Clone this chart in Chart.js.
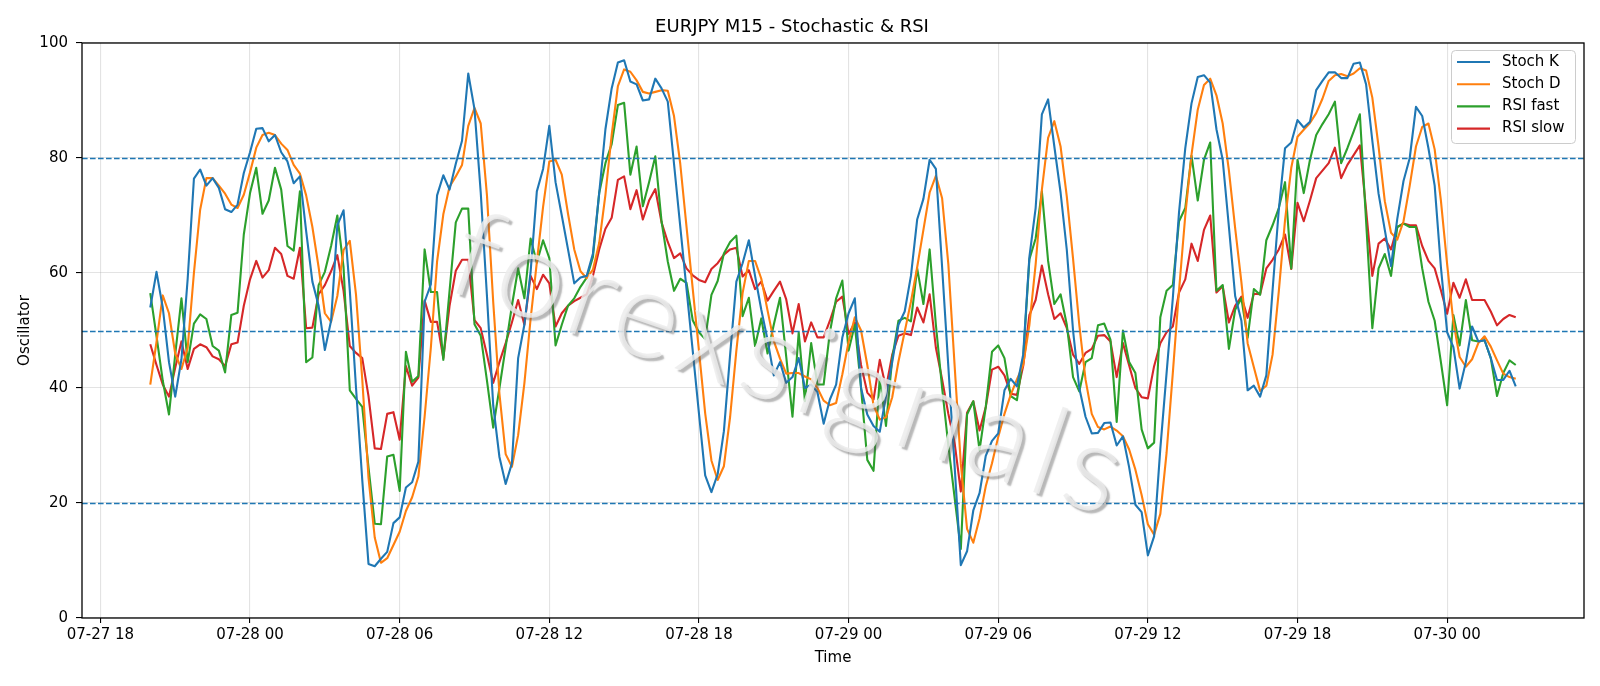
<!DOCTYPE html>
<html>
<head>
<meta charset="utf-8">
<script src="https://cdn.jsdelivr.net/npm/chart.js@4.4.1/dist/chart.umd.min.js"></script>
<style>
  html, body { margin: 0; padding: 0; background: #fff; }
</style>
</head>
<body>
<canvas id="myChart" width="1600" height="686"></canvas>
<script>
// M15 bars, first one at 07-27 20:00 (hours counted from 07-27 18:00)
var startHour = 2;
var stepHours = 0.25;

var stochK = [
  54, 60.2, 54, 44.5, 38.5, 45, 59, 76.4, 78, 75.2,
  76.5, 74.8, 71.1, 70.6, 71.9, 77.4, 81, 85.1, 85.2, 82.9,
  84, 81, 79.4, 75.6, 76.8, 67.3, 58.5, 54.3, 46.6, 51.7,
  68.3, 70.9, 57, 40, 24, 9.4, 9, 10.3, 11.5, 16.5,
  17.5, 22.7, 23.6, 27.2, 55, 58, 73.5, 77, 74.5, 79,
  83, 94.7, 88.5, 74, 56, 37, 28, 23.3, 26.9, 45.2,
  51, 60.2, 74.2, 78.1, 85.6, 75.8, 70, 64.1, 58.2, 59.2,
  59.5, 63.4, 73.9, 85, 92.1, 96.6, 97, 93.3, 92.8, 90,
  90.2, 93.8, 92.1, 89.8, 79, 68.1, 57.3, 46.5, 35.6, 24.8,
  21.9, 25, 32.5, 45.8, 58.5, 61.7, 65.7, 59.5, 53.6, 48.4,
  42.2, 44.5, 40.9, 41.9, 45.2, 40, 40.6, 39.3, 33.8, 38,
  40.6, 48.8, 53, 55.6, 40, 35.4, 33.4, 32.4, 38.6, 44.5,
  51, 53.3, 59.5, 69.3, 72.9, 79.7, 78.1, 61, 43.7, 26.5,
  9.2, 11.6, 18.7, 21.7, 28.2, 30.8, 32.1, 39.6, 41.6, 40.3,
  45.8, 62.8, 71.3, 87.6, 90.2, 82, 74, 64, 50, 40,
  35, 32.1, 32.2, 33.9, 34, 30, 31.6, 26.2, 19.7, 18.4,
  10.9, 14.2, 29.5, 42.6, 55.6, 70.6, 81.7, 89.5, 94.1, 94.4,
  93.1, 85, 79.7, 68, 56, 51.7, 39.6, 40.4, 38.5, 42.2,
  57, 71, 81.7, 82.7, 86.6, 85.3, 86.3, 91.8, 93.4, 94.9,
  94.9, 93.9, 93.9, 96.4, 96.6, 92.8, 83, 73.8, 67.5, 61.2,
  69.4, 76, 80, 88.9, 87.3, 81.7, 75.2, 61, 49.7, 47.1,
  39.9, 44.5, 50.7, 48.1, 48.3, 45.2, 41.4, 41.4, 43, 40.3
];

var stochD = [
  40.6, 48, 56.1, 53, 46, 43.3, 47, 60, 71, 76.5,
  76.5, 75.2, 73.8, 71.9, 71.3, 73.6, 77.5, 81.8, 84, 84.4,
  84, 82.5, 81.4, 78.8, 77.3, 73.5, 68, 61, 53, 51.5,
  56, 64, 65.6, 56.2, 41.5, 24.4, 14, 9.6, 10.4, 12.7,
  15, 18.6, 21, 24.6, 35, 47, 62, 70.2, 75, 76.8,
  78.8, 85.6, 88.7, 86, 73.5, 55, 39, 28.5, 26.3, 31.8,
  40.8, 52, 61.9, 71.5, 79.4, 79.7, 77.1, 70.3, 64.1, 60.3,
  59.1, 60.6, 65.2, 73.6, 84, 92.5, 95.4, 95, 93.5, 91.5,
  91.2, 91.5, 91.8, 91.7, 87.3, 79, 68.1, 57.3, 46.5, 35.6,
  27.4, 24, 26.4, 35, 46.5, 56.5, 62.1, 62.1, 59, 53.5,
  48.2, 45.1, 42.5, 42.6, 42.6, 42, 41.5, 40, 37.8, 37,
  37.4, 42.4, 48, 52.3, 50, 44, 37, 34.5, 34.9, 38.4,
  44.6, 49.8, 55, 61, 67.5, 74, 76.9, 73, 61.5, 44,
  26.8, 15.5, 13.1, 17.3, 22.9, 26.9, 31.5, 35.5, 38.8, 41.5,
  44, 51, 61.5, 74.5, 83.5, 86.4, 82, 73.3, 62.5, 51,
  41.5, 35.5, 33.2, 32.8, 33.3, 32.6, 31.6, 29.3, 25.8, 21.4,
  16.3, 14.5, 18.1, 28.7, 42.6, 57, 70, 80.6, 88.4, 92.7,
  93.8, 90.9, 86, 77.8, 67.8, 58.4, 47.8, 43.6, 39.5, 40.4,
  45.8, 56.8, 69.2, 78.3, 83.7, 84.9, 86.1, 87.8, 90.3, 93.4,
  94.4, 94.6, 94.2, 94.7, 95.6, 95.2, 90.5, 82, 72.5, 67,
  65.8, 69, 75.2, 82, 85.4, 86, 81.5, 72.6, 61.5, 51.5,
  45.4, 43.7, 45, 47.8, 49, 47.2, 44.8, 42.5, 41.9, 41.6
];

var rsiFast = [
  56.5, 49, 41.3, 35.4, 45.8, 55.6, 44.5, 51.2, 52.8, 52,
  47.3, 46.5, 42.7, 52.7, 53.1, 66.7, 73.9, 78.3, 70.3, 72.6,
  78.3, 74.5, 64.7, 63.9, 74.2, 44.5, 45.3, 57.9, 60.2, 64.7,
  70, 61, 39.6, 38.1, 36.7, 26.2, 16.4, 16.3, 28.1, 28.4,
  22.1, 46.3, 41.1, 42.1, 64.1, 56.7, 56.7, 44.9, 56.9, 68.8,
  71.2, 71.2, 51.1, 49.1, 41.3, 33.1, 40, 47.1, 54.3, 60.8,
  55.6, 66, 61.8, 65.7, 62.6, 47.4, 51, 54.3, 55.6, 57.6,
  59.2, 62.8, 73.9, 79.1, 82.4, 89.2, 89.6, 77.1, 82, 71.6,
  75.8, 80.3, 69, 62, 56.9, 59, 58.3, 51.8, 49.7, 48.5,
  56.2, 58.6, 63.4, 65.4, 66.5, 52.5, 55.7, 47.3, 52.1, 46,
  51, 55.7, 45.4, 35, 49.7, 37.7, 47.8, 40.6, 40.6, 49.7,
  55.6, 58.7, 46.5, 51, 40, 27.5, 25.6, 41.8, 33.4, 45.2,
  51.7, 52.2, 51.6, 60.8, 54.6, 64.1, 51, 40, 30, 21,
  12, 35.4, 37.7, 29.2, 36.7, 46.3, 47.4, 45.2, 38.6, 37.9,
  45.2, 62.4, 66, 74.2, 62.1, 54.6, 56.3, 51, 41.9, 39.4,
  44.5, 45.2, 50.9, 51.2, 48.4, 34.1, 50, 44.5, 42.6, 32.8,
  29.5, 30.5, 52.3, 56.9, 57.9, 69, 71.3, 80.4, 72.6, 79.7,
  82.7, 56.9, 57.9, 46.8, 53.6, 55.6, 48.7, 57.2, 56.2, 65.7,
  68.3, 71.3, 75.8, 60.8, 79.7, 73.9, 79.7, 84, 85.9, 87.6,
  89.8, 79.1, 81.7, 84.6, 87.6, 69, 50.4, 60.8, 63.3, 59.5,
  68, 68.6, 68, 68, 60.8, 55, 51.7, 44.5, 37, 52.7,
  47.4, 55.3, 48.3, 48.1, 48.3, 45.2, 38.6, 42.6, 44.8, 44
];

var rsiSlow = [
  47.6, 44, 40.6, 38.5, 43.5, 48.1, 43.3, 46.8, 47.6, 47.1,
  45.5, 45, 43.8, 47.6, 47.9, 54.3, 58.9, 62.1, 59.2, 60.5,
  64.4, 63.3, 59.5, 59, 64.4, 50.4, 50.5, 56.3, 57.9, 60.3,
  63.1, 56.9, 47.3, 46.1, 45.2, 38.6, 29.5, 29.4, 35.5, 35.8,
  31, 43.8, 40.4, 41.8, 55.2, 51.5, 51.5, 45.2, 54.3, 60.4,
  62.3, 62.3, 51.8, 50.4, 45.8, 40.9, 44.5, 47.8, 51.4, 55.3,
  51, 59.5, 57.2, 59.7, 58.2, 50.7, 53, 54.3, 55.1, 55.7,
  56.3, 59.5, 64.1, 67.7, 69.6, 76.2, 76.8, 71.1, 74.4, 69.3,
  72.6, 74.6, 68.8, 65.4, 62.6, 63.4, 60.8, 59.6, 58.8, 58.4,
  60.7, 61.7, 63.2, 64.1, 64.4, 59.4, 60.5, 57.2, 58.5, 55.2,
  56.9, 58.5, 55.4, 49.5, 54.6, 48.1, 51.4, 48.8, 48.8, 51.7,
  55, 55.9, 49.4, 51.4, 44, 39.2, 38, 44.9, 40, 45.8,
  49.1, 49.5, 49.2, 54, 51.4, 56.3, 47, 41.5, 35.5, 30.5,
  22, 35.7, 37.7, 32.6, 36.7, 43.2, 43.7, 42.2, 39, 38.8,
  43.8, 52.7, 55.3, 61.3, 56.3, 52, 53, 50.4, 45.8, 44.2,
  46.1, 46.8, 49.1, 49.2, 48.1, 41.9, 47.8, 43.9, 40, 38.4,
  38.2, 43.8, 47.8, 49.7, 50.7, 56.6, 58.9, 65.1, 62.1, 67.5,
  70, 56.6, 57.7, 51.4, 54.3, 55.9, 52.2, 56.4, 56.3, 60.8,
  62.3, 64.1, 66.7, 60.7, 72.2, 69, 72.6, 76.5, 77.8, 79.1,
  81.8, 76.5, 78.8, 80.5, 82.2, 71, 59.5, 65.1, 66, 64.1,
  68, 68.6, 68.3, 68.3, 64.7, 62.1, 60.8, 57, 52.9, 58.3,
  55.7, 58.9, 55.3, 55.3, 55.3, 53.3, 50.9, 52, 52.7, 52.3
];

// overbought / middle / oversold levels
var levels = [20, 50, 80];

var times = stochK.map(function(v, i) { return startHour + i * stepHours; });

function pts(arr) {
  return arr.map(function(v, i) { return { x: times[i], y: v }; });
}

// hours since 07-27 18:00 -> "07-28 06"
function timeLabel(h) {
  var total = 18 + h;
  var day = 27 + Math.floor(total / 24);
  var hr = total % 24;
  return '07-' + day + ' ' + (hr < 10 ? '0' : '') + hr;
}

var span = times[times.length - 1] - times[0];
var xMin = times[0] - span * 0.05;
var xMax = times[times.length - 1] + span * 0.05;

var tickFont = { family: 'DejaVu Sans', size: 15 };

var extras = {
  id: 'extras',
  afterDatasetsDraw: function(chart) {
    var ctx = chart.ctx, a = chart.chartArea, y = chart.scales.y;
    ctx.save();
    // dashed level lines
    ctx.strokeStyle = '#1f77b4';
    ctx.lineWidth = 1.5;
    ctx.setLineDash([5.6, 2.4]);
    levels.forEach(function(l) {
      var py = Math.round(y.getPixelForValue(l)) + 0.5;
      ctx.beginPath();
      ctx.moveTo(a.left, py);
      ctx.lineTo(a.right, py);
      ctx.stroke();
    });
    ctx.setLineDash([]);
    // frame
    ctx.strokeStyle = '#000';
    ctx.lineWidth = 1.3;
    ctx.strokeRect(a.left, a.top, a.right - a.left, a.bottom - a.top);
    ctx.restore();
  },
  afterDraw: function(chart) {
    var ctx = chart.ctx, a = chart.chartArea;

    // watermark
    ctx.save();
    ctx.beginPath();
    ctx.rect(a.left, a.top, a.right - a.left, a.bottom - a.top);
    ctx.clip();
    ctx.translate(a.left + (a.right - a.left) * 0.472, a.top + (a.bottom - a.top) * 0.562);
    ctx.rotate(19 * Math.PI / 180);
    ctx.font = '300 124px Lato, "DejaVu Sans"';
    ctx.letterSpacing = '7px';
    ctx.textAlign = 'center';
    ctx.textBaseline = 'middle';
    ctx.shadowColor = 'rgba(90,90,90,0.5)';
    ctx.shadowOffsetX = 3;
    ctx.shadowOffsetY = 3;
    ctx.shadowBlur = 1.5;
    ctx.fillStyle = 'rgba(236,236,236,0.85)';
    ctx.fillText('forexsignals', 0, 0);
    ctx.restore();

    // legend, upper right
    var ds = chart.data.datasets;
    var bx = a.right - 133, by = a.top + 7, bw = 124, bh = 93;
    ctx.save();
    ctx.fillStyle = 'rgba(255,255,255,0.85)';
    ctx.strokeStyle = '#cccccc';
    ctx.lineWidth = 1;
    ctx.beginPath();
    ctx.roundRect(bx + 0.5, by + 0.5, bw, bh, 4);
    ctx.fill();
    ctx.stroke();
    ctx.font = '15px "DejaVu Sans"';
    ctx.textBaseline = 'middle';
    ctx.textAlign = 'left';
    ds.forEach(function(d, i) {
      var ly = by + 12 + i * 22.2;
      ctx.strokeStyle = d.borderColor;
      ctx.lineWidth = 2.1;
      ctx.beginPath();
      ctx.moveTo(bx + 6, ly);
      ctx.lineTo(bx + 39, ly);
      ctx.stroke();
      ctx.fillStyle = '#000';
      ctx.fillText(d.label, bx + 51, ly);
    });
    ctx.restore();
  }
};

function series(label, arr, color) {
  return {
    label: label,
    data: pts(arr),
    borderColor: color,
    backgroundColor: color,
    borderWidth: 2.1,
    pointRadius: 0,
    pointHoverRadius: 0,
    tension: 0,
    fill: false,
    borderJoinStyle: 'round'
  };
}

var ctx = document.getElementById('myChart').getContext('2d');
var myChart = new Chart(ctx, {
  type: 'line',
  data: {
    datasets: [
      series('Stoch K', stochK, '#1f77b4'),
      series('Stoch D', stochD, '#ff7f0e'),
      series('RSI fast', rsiFast, '#2ca02c'),
      series('RSI slow', rsiSlow, '#d62728')
    ]
  },
  options: {
    responsive: false,
    animation: false,
    devicePixelRatio: 1,
    layout: { padding: { left: 0, right: 16, top: 0, bottom: 0 } },
    plugins: {
      legend: { display: false },
      tooltip: { enabled: false },
      title: {
        display: true,
        text: 'EURJPY M15 - Stochastic & RSI',
        color: '#000',
        font: { family: 'DejaVu Sans', size: 18, weight: 'normal' },
        padding: { top: 17, bottom: 4.4 }
      }
    },
    scales: {
      x: {
        type: 'linear',
        min: xMin,
        max: xMax,
        afterFit: function(s) { s.height = 68; },
        ticks: {
          stepSize: 6,
          includeBounds: false,
          autoSkip: false,
          maxRotation: 0,
          color: '#000',
          font: tickFont,
          padding: 3,
          callback: function(v) { return timeLabel(v); }
        },
        grid: { color: 'rgba(176,176,176,0.35)', lineWidth: 1.1, tickColor: '#000', tickLength: 5, tickWidth: 1.1 },
        border: { display: false },
        title: { display: true, text: 'Time', color: '#000', font: tickFont, padding: { top: 0, bottom: 19 } }
      },
      y: {
        min: 0,
        max: 100,
        afterFit: function(s) { s.width = 82; },
        ticks: { stepSize: 20, color: '#000', font: tickFont, padding: 8 },
        grid: { color: 'rgba(176,176,176,0.35)', lineWidth: 1.1, tickColor: '#000', tickLength: 6, tickWidth: 1.1 },
        border: { display: false },
        title: { display: true, text: 'Oscillator', color: '#000', font: tickFont, padding: { top: 16, bottom: 0 } }
      }
    }
  },
  plugins: [extras]
});
</script>
</body>
</html>
